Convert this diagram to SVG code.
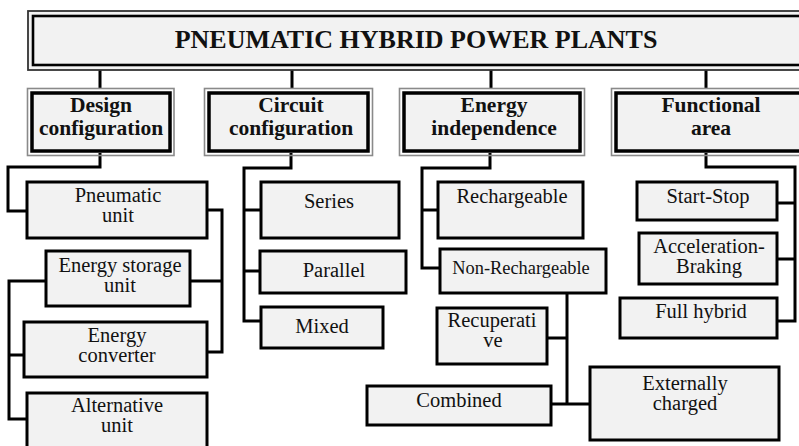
<svg xmlns="http://www.w3.org/2000/svg" width="799" height="446" viewBox="0 0 799 446">
  <style>
    .box { fill: #f2f2f2; stroke: #000; stroke-width: 3; }
    .outer { fill: none; stroke: #8a8a8a; stroke-width: 1.6; }
    .head { fill: #f2f2f2; stroke: #000; stroke-width: 3.5; }
    .wire { fill: none; stroke: #000; stroke-width: 3; stroke-linejoin: miter; }
    text { font-family: "Liberation Serif", "Times New Roman", serif; fill: #111; text-anchor: middle; }
    .t0 { font-size: 26px; font-weight: bold; }
    .t1 { font-size: 21.5px; font-weight: bold; }
    .t2 { font-size: 20.5px; }
    .t3 { font-size: 18.4px; }
  </style>

  <!-- connectors -->
  <g id="connectors">
    <path class="wire" d="M100,70 V88 M292,70 V88 M491,70 V88 M706,70 V88"/>
    <!-- design configuration -->
    <path class="wire" d="M100,153 V167 H8 V211 H27"/>
    <path class="wire" d="M207,210 H222 V352 H207 M190,281 H222"/>
    <path class="wire" d="M46,281 H9 V419 H27 M24,355 H9"/>
    <!-- circuit configuration -->
    <path class="wire" d="M291,153 V168 H244 V321 H261 M244,210 H261 M244,271 H260"/>
    <!-- energy independence -->
    <path class="wire" d="M490,153 V168 H422 V268 H440 M422,210 H438"/>
    <path class="wire" d="M567,293 V404 M547,338 H567 M551,404 H590"/>
    <!-- functional area -->
    <path class="wire" d="M706,153 V167 H795 V321 H777 M777,203 H795 M777,259 H795"/>
  </g>

  <!-- title -->
  <g id="title">
    <rect x="28" y="11" width="800" height="59" fill="#f2f2f2" stroke="#333" stroke-width="1.8"/>
    <rect x="33" y="16" width="800" height="49" fill="#f2f2f2" stroke="#000" stroke-width="2.6"/>
    <text class="t0" x="416" y="48">PNEUMATIC HYBRID POWER PLANTS</text>
  </g>

  <!-- category headers -->
  <g id="design">
    <rect class="outer" x="27.5" y="88.5" width="146.5" height="67"/>
    <rect class="head" x="32" y="93" width="138" height="58"/>
    <text class="t1" x="101" y="112">Design</text>
    <text class="t1" x="101" y="135">configuration</text>
  </g>
  <g id="circuit">
    <rect class="outer" x="204.5" y="88.5" width="168" height="67"/>
    <rect class="head" x="209" y="93" width="159" height="58"/>
    <text class="t1" x="291" y="112">Circuit</text>
    <text class="t1" x="291" y="135">configuration</text>
  </g>
  <g id="energy">
    <rect class="outer" x="399.5" y="88.5" width="185" height="67"/>
    <rect class="head" x="404" y="93" width="176" height="58"/>
    <text class="t1" x="494" y="112">Energy</text>
    <text class="t1" x="494" y="135">independence</text>
  </g>
  <g id="functional">
    <rect class="outer" x="611.5" y="88.5" width="210" height="67"/>
    <rect class="head" x="616" y="93" width="210" height="58"/>
    <text class="t1" x="711" y="112">Functional</text>
    <text class="t1" x="711" y="135">area</text>
  </g>

  <!-- design configuration items -->
  <g id="pneumatic-unit">
    <rect class="box" x="27" y="182" width="180" height="56"/>
    <text class="t2" x="118" y="202">Pneumatic</text>
    <text class="t2" x="118" y="222">unit</text>
  </g>
  <g id="energy-storage-unit">
    <rect class="box" x="46" y="251" width="144" height="55"/>
    <text class="t2" x="120" y="272">Energy storage</text>
    <text class="t2" x="120" y="292">unit</text>
  </g>
  <g id="energy-converter">
    <rect class="box" x="24" y="322" width="183" height="55"/>
    <text class="t2" x="117" y="342">Energy</text>
    <text class="t2" x="117" y="362">converter</text>
  </g>
  <g id="alternative-unit">
    <rect class="box" x="27" y="393" width="180" height="60"/>
    <text class="t2" x="117" y="412">Alternative</text>
    <text class="t2" x="117" y="432">unit</text>
  </g>

  <!-- circuit configuration items -->
  <g id="series">
    <rect class="box" x="261" y="182" width="138" height="56"/>
    <text class="t2" x="329" y="208">Series</text>
  </g>
  <g id="parallel">
    <rect class="box" x="260" y="251" width="146" height="42"/>
    <text class="t2" x="334" y="277">Parallel</text>
  </g>
  <g id="mixed">
    <rect class="box" x="261" y="307" width="122" height="41"/>
    <text class="t2" x="322" y="333">Mixed</text>
  </g>

  <!-- energy independence items -->
  <g id="rechargeable">
    <rect class="box" x="438" y="182" width="145" height="56"/>
    <text class="t2" x="512" y="203">Rechargeable</text>
  </g>
  <g id="non-rechargeable">
    <rect class="box" x="440" y="249" width="166" height="44"/>
    <text class="t3" x="521" y="274">Non-Rechargeable</text>
  </g>
  <g id="recuperative">
    <rect class="box" x="437" y="308" width="110" height="56"/>
    <text class="t2" x="492" y="327">Recuperati</text>
    <text class="t2" x="493" y="347">ve</text>
  </g>
  <g id="combined">
    <rect class="box" x="367" y="386" width="184" height="39"/>
    <text class="t2" x="459" y="407">Combined</text>
  </g>
  <g id="externally-charged">
    <rect class="box" x="590" y="367" width="189" height="73"/>
    <text class="t2" x="685" y="390">Externally</text>
    <text class="t2" x="685" y="410">charged</text>
  </g>

  <!-- functional area items -->
  <g id="start-stop">
    <rect class="box" x="637" y="182" width="140" height="38"/>
    <text class="t2" x="708" y="203">Start-Stop</text>
  </g>
  <g id="acceleration-braking">
    <rect class="box" x="639" y="233" width="138" height="51"/>
    <text class="t2" x="709" y="253">Acceleration-</text>
    <text class="t2" x="709" y="273">Braking</text>
  </g>
  <g id="full-hybrid">
    <rect class="box" x="620" y="298" width="157" height="40"/>
    <text class="t2" x="701" y="318">Full hybrid</text>
  </g>
</svg>
